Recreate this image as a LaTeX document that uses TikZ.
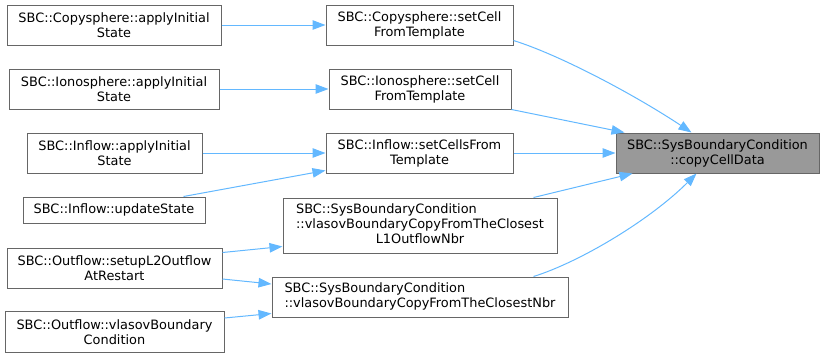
\documentclass[tikz,border=0pt]{standalone}
\usepackage{fontspec}
\setmainfont{DejaVu Sans}
\usetikzlibrary{arrows.meta,calc}
\definecolor{edgeblue}{HTML}{63B8FF}
\definecolor{boxgray}{HTML}{666666}
\definecolor{targetfill}{HTML}{999999}
\begin{document}
\begin{tikzpicture}[x=1pt,y=-1pt,
  fn/.style={draw=boxgray,line width=1pt,fill=white,inner sep=0pt,align=center,
    font=\fontsize{12.9}{15}\selectfont},
  tgt/.style={fn,fill=targetfill},
  link/.style={draw=edgeblue,line width=1pt,-{Triangle[length=13pt,width=9.5pt]}}]
\useasboundingbox (0,0) rectangle (824,357);
% column 1
\node[fn,minimum width=214pt,minimum height=40pt] (A1) at (114,25) {SBC::Copysphere::applyInitial\\State};
\node[fn,minimum width=210pt,minimum height=40pt] (A2) at (114,89) {SBC::Ionosphere::applyInitial\\State};
\node[fn,minimum width=175pt,minimum height=40pt] (A3) at (114.5,153) {SBC::Inflow::applyInitial\\State};
\node[fn,minimum width=182pt,minimum height=26pt] (A4) at (114,210) {SBC::Inflow::updateState};
\node[fn,minimum width=215pt,minimum height=40pt] (A5) at (114.5,268) {SBC::Outflow::setupL2Outflow\\AtRestart};
\node[fn,minimum width=219pt,minimum height=41pt] (A6) at (114.5,332) {SBC::Outflow::vlasovBoundary\\Condition};
% column 2
\node[fn,minimum width=187pt,minimum height=40pt] (B1) at (419.5,25) {SBC::Copysphere::setCell\\FromTemplate};
\node[fn,minimum width=182pt,minimum height=40pt] (B2) at (420,89) {SBC::Ionosphere::setCell\\FromTemplate};
\node[fn,minimum width=187pt,minimum height=40pt] (B3) at (419.5,153) {SBC::Inflow::setCellsFrom\\Template};
\node[fn,minimum width=274pt,minimum height=55pt] (B4) at (420,225.5) {\begin{tabular}{@{}l@{}}SBC::SysBoundaryCondition\\::vlasovBoundaryCopyFromTheClosest\\\multicolumn{1}{@{}c@{}}{L1OutflowNbr}\end{tabular}};
\node[fn,minimum width=296pt,minimum height=40pt] (B5) at (420,297) {\begin{tabular}{@{}l@{}}SBC::SysBoundaryCondition\\::vlasovBoundaryCopyFromTheClosestNbr\end{tabular}};
% target
\node[tgt,minimum width=203pt,minimum height=40pt] (T) at (717.5,153) {SBC::SysBoundaryCondition\\::copyCellData};
% edges
\draw[link] (A1.east) -- (B1.west);
\draw[link] (A2.east) -- (B2.west);
\draw[link] (A3.east) -- (B3.west);
\draw[link] ($(A4.north east)+(-22,0)$) -- ($(B3.south west)+(0,-3)$);
\draw[link] ($(A5.north east)+(0,5)$) -- ($(B4.south west)+(0,-7)$);
\draw[link] ($(A5.east)+(0,11)$) -- ($(B5.west)+(0,-13)$);
\draw[link] ($(A6.north east)+(0,7)$) -- ($(B5.south west)+(0,-4)$);
\draw[link] ($(B1.south east)+(0,-5)$) .. controls (560,55) and (635,95) .. ($(T.north west)+(76,0)$);
\draw[link] (B2.south east) -- ($(T.north west)+(9,0)$);
\draw[link] (B3.east) -- (T.west);
\draw[link] ($(B4.north east)+(-24,0)$) -- ($(T.south west)+(17,0)$);
\draw[link] ($(B5.north east)+(-35,0)$) .. controls (580,262) and (650,220) .. ($(T.south west)+(81,0)$);
\end{tikzpicture}
\end{document}
